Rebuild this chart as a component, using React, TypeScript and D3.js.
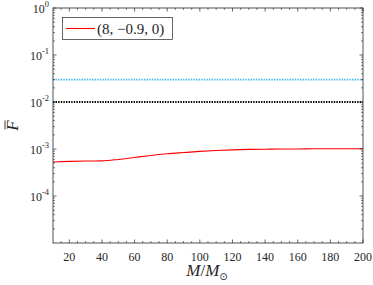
import React from 'react'
import * as d3 from 'd3'

// red curve samples (M/Msun, F-bar)
const massValues = [10, 20, 30, 40, 50, 60, 70, 80, 90, 100, 110, 120, 130, 140, 150, 160, 170, 180, 190, 200]
const fValues = [5.3e-4, 5.45e-4, 5.55e-4, 5.6e-4, 6.0e-4, 6.6e-4, 7.3e-4, 7.9e-4, 8.4e-4, 8.9e-4, 9.3e-4, 9.6e-4, 9.8e-4, 9.9e-4, 1.0e-3, 1.0e-3, 1.01e-3, 1.01e-3, 1.01e-3, 1.01e-3]

const cyanLevel = 0.03
const blackLevel = 0.01

const xTicks = [20, 40, 60, 80, 100, 120, 140, 160, 180, 200]
const yExponents = [0, -1, -2, -3, -4]
const legendLabel = '(8, \u22120.9, 0)'

const width = 373
const height = 285
const margin = { top: 8, right: 10, bottom: 42, left: 53 }
const axisColor = '#262626'
const serif = 'Liberation Serif'

const App: React.FC = () => {
  const x = d3.scaleLinear().domain([10, 200]).range([margin.left, width - margin.right])
  const y = d3.scaleLog().domain([1e-5, 1]).range([height - margin.bottom, margin.top])

  const line = d3.line<number>()
    .x((_, i) => x(massValues[i]))
    .y(d => y(d))
    .curve(d3.curveMonotoneX)

  const x0 = margin.left
  const x1 = width - margin.right
  const y0 = height - margin.bottom
  const y1 = margin.top

  // minor ticks every 5 units on x
  const xMinor = d3.range(15, 200, 5).filter(v => v % 20 !== 0)
  // log minor ticks 2..9 per decade
  const yMinor: number[] = []
  for (let e = -5; e < 0; e++) {
    for (let k = 2; k <= 9; k++) yMinor.push(k * Math.pow(10, e))
  }

  return (
    <svg width={width} height={height} style={{ position: 'absolute', left: 0, top: 0, background: '#fff' }}>
      {/* horizontal reference levels */}
      <line x1={x0} x2={x1} y1={y(cyanLevel)} y2={y(cyanLevel)} stroke="#3FB8EA" strokeWidth={1.8} strokeDasharray="1.4,1.2" />
      <line x1={x0} x2={x1} y1={y(blackLevel)} y2={y(blackLevel)} stroke="#000" strokeWidth={1.8} strokeDasharray="1.4,1.2" />
      <path d={line(fValues) || ''} fill="none" stroke="#ff0000" strokeWidth={1.1} />

      {/* box */}
      <rect x={x0} y={y1} width={x1 - x0} height={y0 - y1} fill="none" stroke={axisColor} strokeWidth={0.8} />

      {/* x ticks */}
      {xTicks.map(t => (
        <g key={'xt' + t}>
          <line x1={x(t)} x2={x(t)} y1={y0} y2={y0 - 3.5} stroke={axisColor} strokeWidth={0.7} />
          <line x1={x(t)} x2={x(t)} y1={y1} y2={y1 + 3.5} stroke={axisColor} strokeWidth={0.7} />
          <text x={x(t)} y={y0 + 18} textAnchor="middle" fontFamily={serif} fontSize={12} fill={axisColor}>{t}</text>
        </g>
      ))}
      {xMinor.map(t => (
        <g key={'xm' + t}>
          <line x1={x(t)} x2={x(t)} y1={y0} y2={y0 - 2} stroke={axisColor} strokeWidth={0.6} />
          <line x1={x(t)} x2={x(t)} y1={y1} y2={y1 + 2} stroke={axisColor} strokeWidth={0.6} />
        </g>
      ))}

      {/* y ticks */}
      {yExponents.map(e => (
        <g key={'yt' + e}>
          <line x1={x0} x2={x0 + 3.5} y1={y(Math.pow(10, e))} y2={y(Math.pow(10, e))} stroke={axisColor} strokeWidth={0.7} />
          <line x1={x1} x2={x1 - 3.5} y1={y(Math.pow(10, e))} y2={y(Math.pow(10, e))} stroke={axisColor} strokeWidth={0.7} />
          <text x={x0 - 4} y={y(Math.pow(10, e)) + 5} textAnchor="end" fontFamily={serif} fontSize={12} fill={axisColor}>
            10<tspan dy={-6} fontSize={8.5}>{e === 0 ? '0' : '-' + Math.abs(e)}</tspan>
          </text>
        </g>
      ))}
      {yMinor.map(t => (
        <g key={'ym' + t}>
          <line x1={x0} x2={x0 + 2} y1={y(t)} y2={y(t)} stroke={axisColor} strokeWidth={0.6} />
          <line x1={x1} x2={x1 - 2} y1={y(t)} y2={y(t)} stroke={axisColor} strokeWidth={0.6} />
        </g>
      ))}

      {/* axis labels */}
      <text x={(x0 + x1) / 2 - 1} y={276} textAnchor="middle" fontFamily={serif} fontSize={17} fill={axisColor}>
        <tspan fontStyle="italic">M</tspan>/<tspan fontStyle="italic">M</tspan>
        <tspan dy={4} fontSize={10} fontFamily="DejaVu Sans">{'\u2299'}</tspan>
      </text>
      <g transform={`translate(18, ${(y0 + y1) / 2}) rotate(-90)`}>
        <text textAnchor="middle" fontFamily={serif} fontSize={17} fontStyle="italic" fill={axisColor}>F</text>
        <line x1={-4} x2={5} y1={-13} y2={-13} stroke={axisColor} strokeWidth={0.9} />
      </g>

      {/* legend */}
      <rect x={62.5} y={17.5} width={110} height={22} fill="#fff" stroke={axisColor} strokeWidth={0.7} />
      <line x1={66} x2={95} y1={28.5} y2={28.5} stroke="#ff0000" strokeWidth={1.1} />
      <text x={97} y={33.5} fontFamily={serif} fontSize={15} fill={axisColor}>{legendLabel}</text>
    </svg>
  )
}

export default App
